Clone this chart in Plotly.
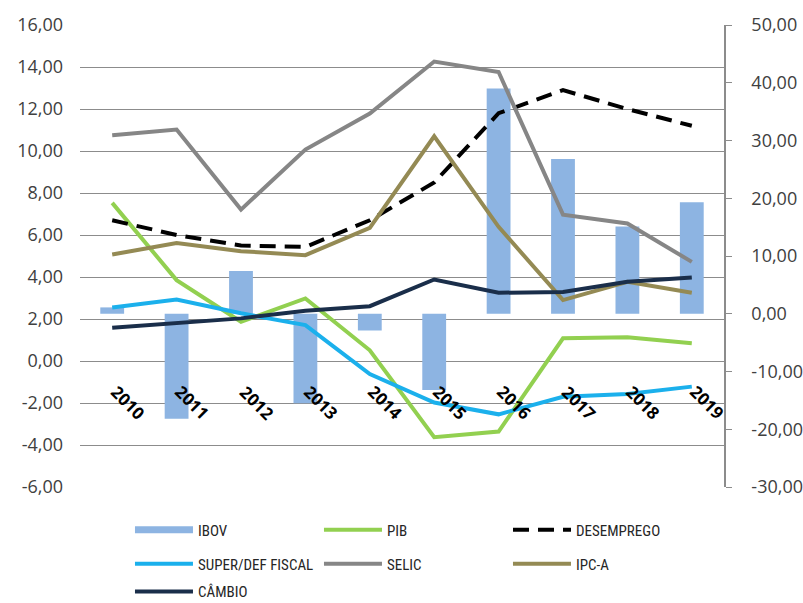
import plotly.graph_objects as go

years = ["2010", "2011", "2012", "2013", "2014", "2015", "2016", "2017", "2018", "2019"]

ibov = [1.1, -18.2, 7.4, -15.5, -2.9, -13.2, 39.0, 26.8, 15.1, 19.3]
pib = [7.53, 3.85, 1.87, 2.98, 0.51, -3.63, -3.36, 1.08, 1.13, 0.84]
desemprego = [6.7, 6.0, 5.5, 5.43, 6.7, 8.5, 11.8, 12.9, 12.0, 11.2]
super_def = [2.55, 2.93, 2.27, 1.71, -0.62, -1.98, -2.54, -1.70, -1.57, -1.22]
selic = [10.75, 11.02, 7.21, 10.07, 11.78, 14.26, 13.76, 6.97, 6.55, 4.72]
ipca = [5.07, 5.62, 5.23, 5.04, 6.34, 10.70, 6.39, 2.90, 3.77, 3.25]
cambio = [1.58, 1.82, 2.03, 2.39, 2.61, 3.88, 3.25, 3.29, 3.77, 3.98]

left_ticks = [-6, -4, -2, 0, 2, 4, 6, 8, 10, 12, 14, 16]
right_ticks = [-30, -20, -10, 0, 10, 20, 30, 40, 50]


def fmt(v):
    return f"{v:.2f}".replace(".", ",")


GRID = "#8c8c8c"
TXT = "#404040"
BAR_COLOR = "#8DB4E2"
TICKFONT = dict(family="Open Sans", size=18, color=TXT)
LEGFONT = dict(family="Liberation Sans Narrow, Roboto Condensed, DejaVu Sans Condensed, Open Sans", size=15, color="#262626")

fig = go.Figure()

fig.add_trace(go.Bar(x=years, y=ibov, name="IBOV", marker=dict(color=BAR_COLOR, line=dict(width=0)),
                     width=0.37, yaxis="y", showlegend=False, legendgroup="ibov"))
# legend entry for IBOV drawn as a wide flat swatch, like the reference
fig.add_trace(go.Scatter(x=[years[0]], y=[None], name="IBOV", mode="lines",
                         line=dict(color=BAR_COLOR, width=7), yaxis="y", legend="legend",
                         legendgroup="ibov", hoverinfo="skip"))

lines = [
    ("PIB", pib, "#92D050", "solid", "legend"),
    ("DESEMPREGO", desemprego, "#000000", "16px,9px", "legend"),
    ("SUPER/DEF FISCAL", super_def, "#1BB0EC", "solid", "legend2"),
    ("SELIC", selic, "#868686", "solid", "legend2"),
    ("IPC-A", ipca, "#948A54", "solid", "legend2"),
    ("CÂMBIO", cambio, "#1A2E4A", "solid", "legend3"),
]
for name, vals, col, dash, leg in lines:
    fig.add_trace(go.Scatter(x=years, y=vals, name=name, mode="lines",
                             line=dict(color=col, width=4, dash=dash),
                             yaxis="y2", legend=leg))

for i, yr in enumerate(years):
    fig.add_annotation(x=i, y=0, xref="x", yref="y2", text=f"<b>{yr}</b>", showarrow=False,
                       textangle=45, xanchor="center", yanchor="middle", xshift=16, yshift=-41,
                       font=dict(family="Open Sans", size=17, color="#000000"))

leg_common = dict(orientation="h", xanchor="left", yanchor="middle", entrywidth=116,
                  entrywidthmode="pixels", font=LEGFONT, bgcolor="rgba(0,0,0,0)", itemwidth=58)

fig.update_layout(
    width=803, height=603,
    margin=dict(l=80, r=79, t=25, b=116, pad=0, autoexpand=False),
    paper_bgcolor="white", plot_bgcolor="white",
    separators=",.",
    xaxis=dict(type="category", range=[-0.5, 9.5], showticklabels=False, showgrid=False,
               zeroline=False, showline=False, ticks=""),
    yaxis=dict(side="right", range=[-30, 50], tickvals=right_ticks, ticktext=[fmt(v) for v in right_ticks],
               ticks="outside", ticklen=6, tickcolor=GRID, showline=True, linecolor=GRID, linewidth=1.5,
               showgrid=False, zeroline=False, tickfont=TICKFONT, ticklabelstandoff=16),
    yaxis2=dict(side="left", overlaying="y", range=[-6, 16], tickvals=left_ticks,
                ticktext=[fmt(v) for v in left_ticks], ticks="", showgrid=True, gridcolor=GRID,
                gridwidth=1.3, zeroline=False, showline=False, tickfont=TICKFONT, ticklabelstandoff=16),
    legend=dict(x=0.0776, y=-0.093, **leg_common),
    legend2=dict(x=0.0776, y=-0.1665, **leg_common),
    legend3=dict(x=0.0776, y=-0.227, **leg_common),
)

fig.write_html("out.html")
